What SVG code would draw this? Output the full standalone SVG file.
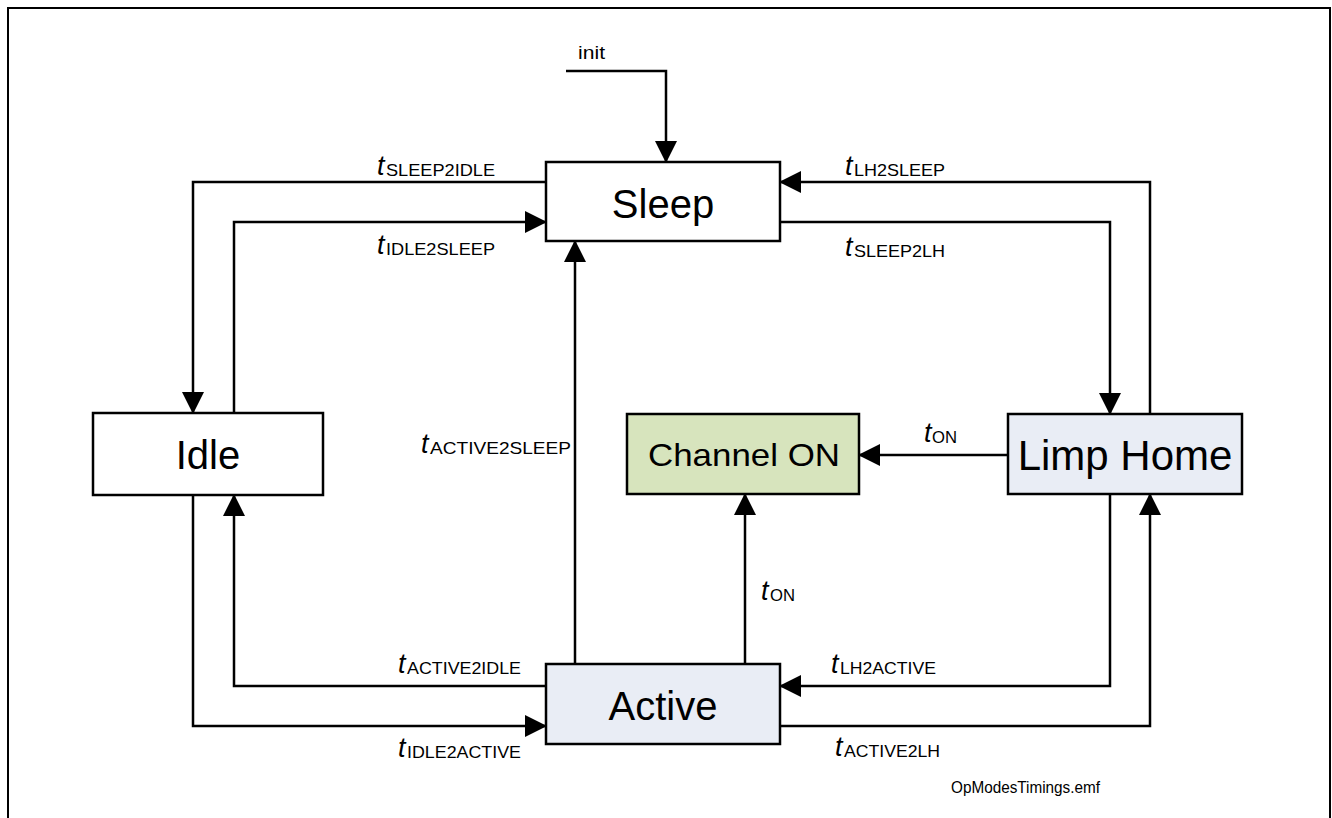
<svg xmlns="http://www.w3.org/2000/svg" width="1332" height="818" viewBox="0 0 1332 818">
<style>
.frame{fill:none;stroke:#000;stroke-width:2}
.box{stroke:#000;stroke-width:2.5}
.plain{fill:#fff}
.blue{fill:#E9EDF5}
.green{fill:#D7E4BD}
.node{font-family:"Liberation Sans",Arial,sans-serif;font-size:40px;fill:#000;text-anchor:middle}
.con{fill:none;stroke:#000;stroke-width:2.5}
.lbl{font-family:"Liberation Sans",Arial,sans-serif;fill:#000}
.it{font-style:italic;font-size:27px}
.sub{font-size:17px}
.small{font-family:"Liberation Sans",Arial,sans-serif;font-size:18px;fill:#000}
</style>
<defs>
<marker id="arr" markerUnits="userSpaceOnUse" markerWidth="22" markerHeight="22" viewBox="0 0 22 22" refX="21" refY="11" orient="auto">
<path d="M0,0 L22,11 L0,22 z" fill="#000"/>
</marker>
</defs>
<rect width="1332" height="818" fill="#fff"/>
<path class="frame" d="M8,818 V8 H1330 V818"/>

<g id="connectors">
<path class="con" d="M566,71 H666 V162" marker-end="url(#arr)"/>
<path class="con" d="M546,182 H193 V413" marker-end="url(#arr)"/>
<path class="con" d="M234,413 V222 H546" marker-end="url(#arr)"/>
<path class="con" d="M1150,414 V182 H780" marker-end="url(#arr)"/>
<path class="con" d="M780,222 H1110 V414" marker-end="url(#arr)"/>
<path class="con" d="M575,664 V241" marker-end="url(#arr)"/>
<path class="con" d="M745,664 V494" marker-end="url(#arr)"/>
<path class="con" d="M1008,455 H859" marker-end="url(#arr)"/>
<path class="con" d="M546,686 H234 V495" marker-end="url(#arr)"/>
<path class="con" d="M193,495 V726 H546" marker-end="url(#arr)"/>
<path class="con" d="M1110,494 V686 H780" marker-end="url(#arr)"/>
<path class="con" d="M780,726 H1150 V494" marker-end="url(#arr)"/>
</g>

<g id="labels">
<text class="small" x="578" y="59" textLength="27" lengthAdjust="spacingAndGlyphs">init</text>
<text class="lbl" x="377" y="175"><tspan class="it">t</tspan><tspan class="sub" x="386" dy="1" textLength="109" lengthAdjust="spacingAndGlyphs">SLEEP2IDLE</tspan></text>
<text class="lbl" x="377" y="254"><tspan class="it">t</tspan><tspan class="sub" x="386" dy="1" textLength="109" lengthAdjust="spacingAndGlyphs">IDLE2SLEEP</tspan></text>
<text class="lbl" x="845" y="175"><tspan class="it">t</tspan><tspan class="sub" x="854" dy="1" textLength="91" lengthAdjust="spacingAndGlyphs">LH2SLEEP</tspan></text>
<text class="lbl" x="845" y="256"><tspan class="it">t</tspan><tspan class="sub" x="854" dy="1" textLength="91" lengthAdjust="spacingAndGlyphs">SLEEP2LH</tspan></text>
<text class="lbl" x="421" y="453"><tspan class="it">t</tspan><tspan class="sub" x="430" dy="1" textLength="141" lengthAdjust="spacingAndGlyphs">ACTIVE2SLEEP</tspan></text>
<text class="lbl" x="761" y="600"><tspan class="it">t</tspan><tspan class="sub" x="770" dy="1" textLength="25" lengthAdjust="spacingAndGlyphs">ON</tspan></text>
<text class="lbl" x="924" y="442"><tspan class="it">t</tspan><tspan class="sub" x="932" dy="1" textLength="25" lengthAdjust="spacingAndGlyphs">ON</tspan></text>
<text class="lbl" x="398" y="673"><tspan class="it">t</tspan><tspan class="sub" x="407" dy="1" textLength="114" lengthAdjust="spacingAndGlyphs">ACTIVE2IDLE</tspan></text>
<text class="lbl" x="398" y="757"><tspan class="it">t</tspan><tspan class="sub" x="407" dy="1" textLength="114" lengthAdjust="spacingAndGlyphs">IDLE2ACTIVE</tspan></text>
<text class="lbl" x="831" y="673"><tspan class="it">t</tspan><tspan class="sub" x="840" dy="1" textLength="96" lengthAdjust="spacingAndGlyphs">LH2ACTIVE</tspan></text>
<text class="lbl" x="835" y="756"><tspan class="it">t</tspan><tspan class="sub" x="844" dy="1" textLength="96" lengthAdjust="spacingAndGlyphs">ACTIVE2LH</tspan></text>
<text class="small" x="951" y="793" style="font-size:16px" textLength="149" lengthAdjust="spacingAndGlyphs">OpModesTimings.emf</text>
</g>

<g id="sleep">
<rect class="box plain" x="546" y="162" width="234" height="79"/>
<text class="node" x="663" y="218">Sleep</text>
</g>
<g id="idle">
<rect class="box plain" x="93" y="413" width="230" height="82"/>
<text class="node" x="208" y="469">Idle</text>
</g>
<g id="channel-on">
<rect class="box green" x="627" y="414" width="232" height="80"/>
<text class="node" x="744" y="466" style="font-size:32px" textLength="192" lengthAdjust="spacingAndGlyphs">Channel ON</text>
</g>
<g id="limp-home">
<rect class="box blue" x="1008" y="414" width="234" height="80"/>
<text class="node" x="1125" y="470" style="font-size:42px">Limp Home</text>
</g>
<g id="active">
<rect class="box blue" x="546" y="664" width="234" height="80"/>
<text class="node" x="663" y="720">Active</text>
</g>
</svg>
